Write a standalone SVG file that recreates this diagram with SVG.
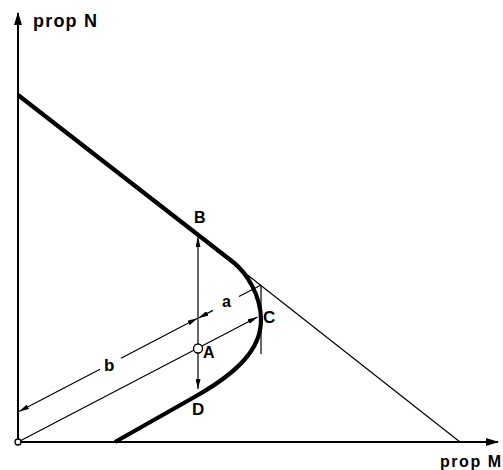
<svg xmlns="http://www.w3.org/2000/svg" width="503" height="470" viewBox="0 0 503 470">
<style>
.lbl{font-family:"Liberation Sans",Arial,sans-serif;font-weight:bold;fill:#000}
.thin{stroke:#000;stroke-width:1.2;fill:none}
.axis{stroke:#000;stroke-width:2;fill:none}
</style>
<defs>
<marker id="ax" viewBox="0 0 13 8" refX="12" refY="4" markerWidth="13" markerHeight="8" markerUnits="userSpaceOnUse" orient="auto"><path d="M0,0 L13,4 L0,8 z" fill="#000"/></marker>
<marker id="ar" viewBox="0 0 10 5" refX="10" refY="2.5" markerWidth="10" markerHeight="5" markerUnits="userSpaceOnUse" orient="auto-start-reverse"><path d="M0,0 L10,2.5 L0,5 z" fill="#000"/></marker>
</defs>
<g id="axes">
<line class="axis" x1="18" y1="443" x2="18" y2="13" marker-end="url(#ax)"/>
<line class="axis" x1="18" y1="442" x2="498" y2="442" marker-end="url(#ax)"/>
<text class="lbl" x="33" y="27" font-size="18" textLength="64">prop N</text>
<text class="lbl" x="440" y="467" font-size="16" textLength="61">prop M</text>
</g>
<g id="connectors">
<line class="thin" x1="198" y1="236" x2="460" y2="442"/>
<line class="thin" x1="261" y1="285" x2="261" y2="354"/>
<line class="thin" x1="198" y1="237" x2="198" y2="389" marker-start="url(#ar)" marker-end="url(#ar)"/>
<line class="thin" x1="18" y1="442" x2="257.5" y2="317" marker-end="url(#ar)"/>
<line class="thin" x1="19" y1="411.5" x2="100" y2="369.2" marker-start="url(#ar)"/>
<line class="thin" x1="121" y1="358.2" x2="197.5" y2="318.3" marker-end="url(#ar)"/>
<line class="thin" x1="198.5" y1="318" x2="213" y2="310.4" marker-start="url(#ar)"/>
<line class="thin" x1="239" y1="296.5" x2="261" y2="285"/>
</g>
<g id="curve">
<path d="M18,95 L233,262 C247,273 261,296 261,320 C261,350 236,373 198,395 L115,442" stroke="#000" stroke-width="4.2" fill="none" stroke-linejoin="round"/>
</g>
<g id="origin"><circle cx="18" cy="442" r="3" fill="#fff" stroke="#000" stroke-width="1.3"/></g>
<g id="node-A">
<circle cx="198" cy="348.5" r="4.5" fill="#fff" stroke="#000" stroke-width="1.3"/>
<text class="lbl" x="203" y="358" font-size="16">A</text>
</g>
<g id="node-B"><text class="lbl" x="194" y="223" font-size="16">B</text></g>
<g id="node-C"><text class="lbl" x="263" y="323" font-size="17">C</text></g>
<g id="node-D"><text class="lbl" x="192" y="415" font-size="17">D</text></g>
<g id="label-a"><text class="lbl" x="222" y="307" font-size="16">a</text></g>
<g id="label-b"><text class="lbl" x="104" y="371" font-size="17">b</text></g>
</svg>
